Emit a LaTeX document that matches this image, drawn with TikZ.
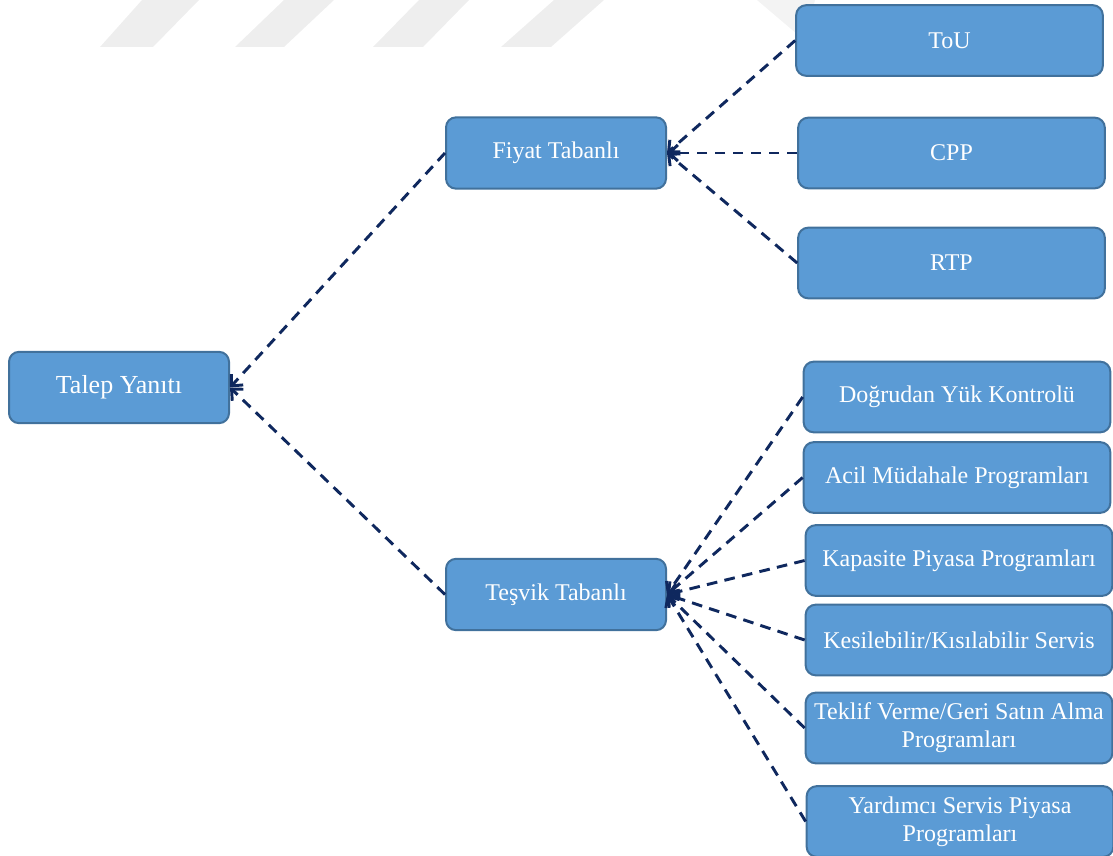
\documentclass[tikz,border=0pt]{standalone}
\usepackage{fontspec}
\setmainfont{Liberation Serif}
\usetikzlibrary{arrows.meta}

\definecolor{boxfill}{HTML}{5B9BD5}
\definecolor{boxline}{HTML}{41719C}
\definecolor{linkcol}{HTML}{0F285E}
\definecolor{stripegrey}{HTML}{EEEEEE}

\tikzset{
  box/.style={draw=boxline, fill=boxfill, line width=1.5pt, rounded corners=7.5pt,
    text=white, align=center, inner sep=0pt,
    font=\fontsize{18pt}{21pt}\selectfont},
  parentbox/.style={box, minimum width=165pt, minimum height=53.5pt},
  leafbox/.style={box, minimum width=230pt, minimum height=53pt},
  link/.style={draw=linkcol, line width=2.2pt, dash pattern=on 8pt off 5.5pt,
    -{Straight Barb[length=6.5pt,width=12pt,line width=2.2pt]}},
  stripe/.style={fill=stripegrey, draw=none}
}

\begin{document}
\begin{tikzpicture}[x=0.75pt, y=-0.75pt]
\useasboundingbox (0,0) rectangle (1113,856);

% faint stripes along the top edge
\fill[stripe] (142,0) -- (199,0) -- (153,47) -- (100,47) -- cycle;
\fill[stripe] (284,0) -- (334,0) -- (284,47) -- (235,47) -- cycle;
\fill[stripe] (419,0) -- (469,0) -- (423,47) -- (373,47) -- cycle;
\fill[stripe] (554,0) -- (604,0) -- (551,47) -- (501,47) -- cycle;
\fill[stripe, fill opacity=0.7] (757,0) -- (815,0) -- (805,40) -- (797,34) -- cycle;

% root and the two branches
\node[parentbox, font=\fontsize{19.5pt}{22pt}\selectfont] (talep) at (119,387.5) {Talep Yanıtı};
\node[parentbox] (fiyat) at (556,153) {Fiyat Tabanlı};
\node[parentbox] (tesvik) at (556,594.5) {Teşvik Tabanlı};

% price-based programmes
\node[leafbox] (tou) at (949.5,40.5) {ToU};
\node[leafbox] (cpp) at (951.5,153) {CPP};
\node[leafbox] (rtp) at (951.5,263) {RTP};

% incentive-based programmes
\node[leafbox] (dyk) at (957,397) {Doğrudan Yük Kontrolü};
\node[leafbox] (acil) at (957,477.5) {Acil Müdahale Programları};
\node[leafbox] (kap) at (959,560.5) {Kapasite Piyasa Programları};
\node[leafbox] (kes) at (959,640) {Kesilebilir/Kısılabilir Servis};
\node[leafbox] (tek) at (959,728) {Teklif Verme/Geri Satın Alma\\Programları};
\node[leafbox] (yar) at (960,821.5) {Yardımcı Servis Piyasa\\Programları};

% connectors, each pointing back to its parent
\draw[link] (fiyat.west) -- (talep.east);
\draw[link] (tesvik.west) -- (talep.east);

\draw[link] (tou.west) -- (fiyat.east);
\draw[link] (cpp.west) -- (fiyat.east);
\draw[link] (rtp.west) -- (fiyat.east);

\draw[link] (dyk.west) -- (tesvik.east);
\draw[link] (acil.west) -- (tesvik.east);
\draw[link] (kap.west) -- (tesvik.east);
\draw[link] (kes.west) -- (tesvik.east);
\draw[link] (tek.west) -- (tesvik.east);
\draw[link] (yar.west) -- (tesvik.east);
\end{tikzpicture}
\end{document}
